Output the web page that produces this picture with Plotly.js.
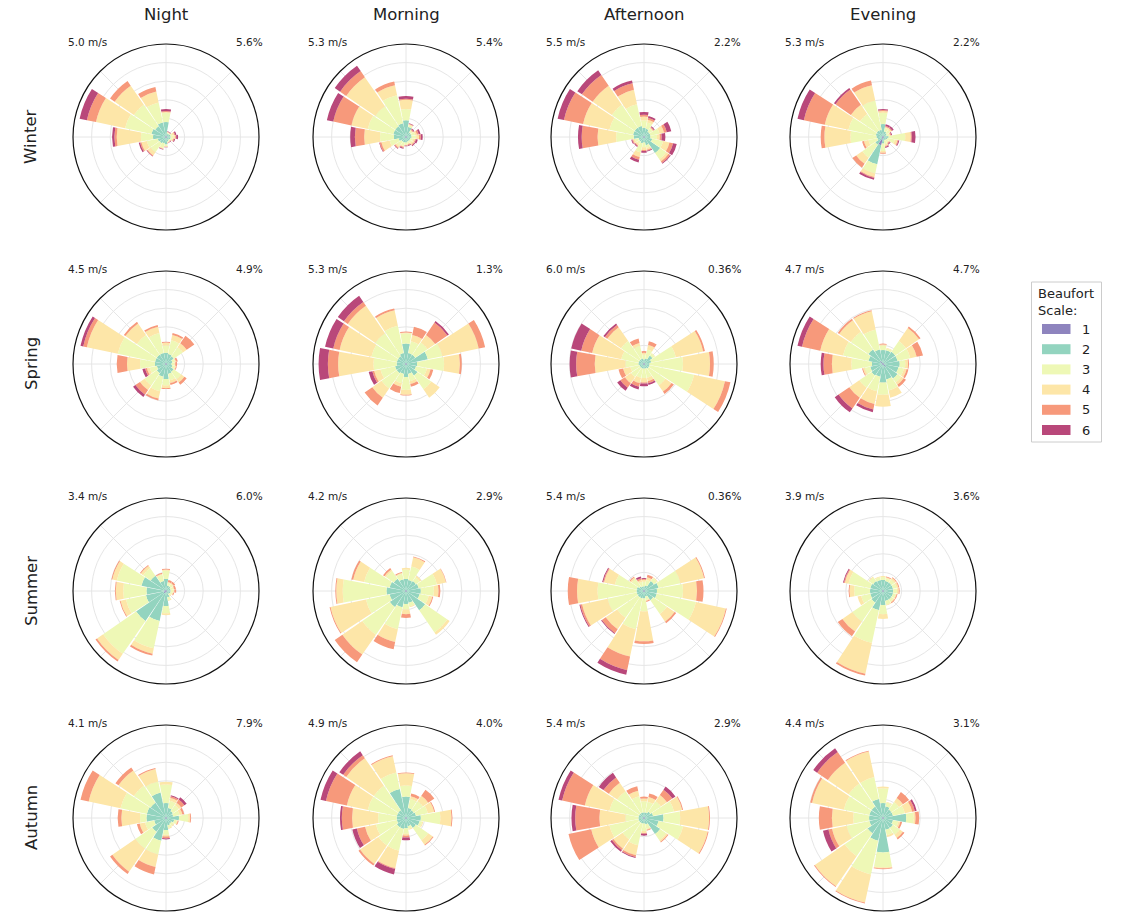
<!DOCTYPE html>
<html>
<head>
<meta charset="utf-8">
<script src="https://cdn.plot.ly/plotly-3.0.1.min.js"></script>
<style>html,body{margin:0;padding:0;background:#fff;}#chart{width:1122px;height:913px;}</style>
</head>
<body>
<div id="chart"></div>
<script>
// ---------- DATA ----------
const directions = ['N','NNE','NE','ENE','E','ESE','SE','SSE','S','SSW','SW','WSW','W','WNW','NW','NNW'];
const beaufortClasses = ['1','2','3','4','5','6'];
const seasons = ['Winter','Spring','Summer','Autumn'];
const timesOfDay = ['Night','Morning','Afternoon','Evening'];

// frequency per direction (rows N..NNW) per Beaufort class (columns 1..6), relative units
const winterNight = [
 [1,15,10,1,1,2],[1,3,1,0.5,0.3,0.5],[1,3,1,0.5,0.5,0.5],[1,4,2,2,1,1.5],[1,4,3,2,1,2],[1,4,2,1,1,1],[1,3,1,1,0.5,0.5],[1,4,1,0.5,0.3,0.3],
 [1,7,2,0.5,0.3,0.3],[1,6,5,1,0.5,0.5],[1,7,12,4,1,0.5],[1,8,12,6,1.5,1.5],[1,13,13,26,2.5,2.5],[1,15,29,32,10,8],[1,13,28,25,6,0],[1,15,22,12,5,0]];
const winterMorning = [
 [1,17,12,10,1,3],[1,10,2,1,0.5,0.5],[1,5,2,1,1,1],[1,5,4,2,2,2],[1,5,5,3,2,2],[1,4,3,2,1,2],[1,4,3,2,1,1],[1,4,2,1,1,1],
 [1,5,2,1,0.5,0.5],[1,5,4,1,1,1],[1,5,6,2,1,0.5],[1,7,10,9,2,0.5],[1,12,15,17,10,5],[1,13,28,18,20,7],[1,13,26,38,8,7],[1,14,31,11,4,0]];
const winterAfternoon = [
 [1,9,8,4,2,3],[1,8,7,3,2,2],[1,6,4,1,1,1],[1,6,10,5,3,5],[1,6,7,3,2,4],[1,8,12,7,4,4],[1,20,8,3,2,1],[1,8,3,2,1,1],
 [1,5,5,3,1,2],[1,6,10,5,3,3],[1,5,3,2,1,1],[1,5,4,2,1,1],[1,10,19,20,17,4],[1,11,26,29,21,7],[1,11,30,25,14,6],[1,11,24,16,7,3]];
const winterEvening = [
 [1,13,12,2,1,1],[1,5,4,1,1,2],[1,4,4,2,1,2],[1,3,3,1,1,1],[1,5,18,6,1,4],[1,4,8,3,1,1],[1,3,3,1,1,1],[1,3,4,2,1,1],
 [1,6,8,2,1,0],[9,21,10,4,1,2],[2,8,17,8,5,0],[1,5,10,5,2,0],[1,6,28,28,4,0],[1,7,30,26,23,7],[1,7,22,12,20,2],[1,7,32,17,5,0]];
const springNight = [
 [1,11,8,3,1,0],[1,10,15,6,2,0],[1,9,12,5,10,0],[1,6,3,1,2,0],[1,5,3,1,2,0],[1,6,3,1,1,0],[1,9,10,4,3,0],[1,10,7,3,2,0],
 [1,15,7,3,1,0],[1,13,16,8,2,0],[1,11,16,6,6,3],[1,9,8,3,2,3],[1,11,16,14,11,0],[1,11,41,34,4,3],[1,11,26,15,2,0],[1,11,22,7,2,0]];
const springMorning = [
 [1,21,11,1,1,0],[1,11,13,7,9,0],[1,11,16,10,16,2],[1,23,16,40,7,0],[1,11,29,17,2,0],[1,10,12,4,3,0],[1,14,18,11,0,0],[1,10,8,3,3,0],
 [1,13,14,5,1,0],[1,10,10,4,7,0],[1,11,20,12,10,0],[1,11,16,7,2,4],[1,9,25,38,11,10],[1,9,28,35,7,9],[1,9,30,36,5,8],[1,11,30,17,2,0]];
const springAfternoon = [
 [1,4,5,2,2,0],[1,5,10,5,4,0],[1,10,3,0.5,0,0],[1,7,27,30,2,0],[1,5,36,29,4,0],[1,5,49,34,6,0],[1,5,22,8,3,0],[1,4,10,4,2,2],
 [1,4,10,5,1,3],[1,4,10,6,4,3],[1,4,12,8,6,4],[1,4,10,8,5,0],[1,5,14,33,20,7],[1,5,19,32,12,11],[1,5,24,18,3,2],[1,5,14,3,5,0]];
const springEvening = [
 [1,14,5,1,1,0],[1,14,2,1,0,0],[1,15,14,17,2,0],[1,15,14,7,7,0],[1,17,6,3,1,0],[1,16,6,3,2,0],[4,15,5,3,3,0],[1,16,12,8,0,0],
 [1,19,13,13,0,0],[1,13,16,14,6,3],[1,14,16,13,14,5],[1,13,6,2,1,0],[1,11,22,21,9,3],[1,15,28,25,20,5],[4,15,23,15,2,0],[1,15,22,20,1,0]];
const summerNight = [
 [1,12,9,1,1,0],[1,5,3,1,2,0],[1,5,3,1,2,0],[1,4,3,1,2,0],[1,4,3,1,2,0],[1,4,2,1,1,0],[1,3,2,1,0,0],[1,6,3,1,0,0],
 [1,15,8,2,0,0],[2,31,30,6,2,0],[3,36,43,8,2,0],[2,20,22,6,1,0],[2,19,25,8,1,0],[2,25,27,5,1,0],[1,19,10,3,1,0],[1,10,7,1,1,0]];
const summerMorning = [
 [1,12,10,2,0,0],[1,11,15,10,1,0],[1,12,5,2,0,0],[1,13,20,10,0.5,0],[1,15,14,5,2,0],[1,14,10,4,1,0],[1,24,29,3,0,0],[1,12,4,1,0,0],
 [1,13,6,5,4,0],[1,17,24,14,8,0],[1,20,36,26,10,0],[1,17,26,39,1,0],[1,20,47,7,1,0],[1,17,28,12,2,0],[1,15,10,2,2,0],[1,12,6,1,1,0]];
const summerAfternoon = [
 [1,4,5,2,1,1],[1,5,6,3,3,0],[1,12,4,1,0,0],[1,15,24,26,1,0],[1,13,28,15,7,0],[1,13,43,33,1,0],[1,11,18,10,2,0],[1,5,4,1,1,0],
 [1,7,14,32,3,0],[1,7,34,30,15,5],[1,7,27,15,5,1],[1,7,32,28,2,1],[1,7,42,22,10,0],[1,7,24,12,1,1],[1,5,10,2,1,0],[1,4,5,2,2,2]];
const summerEvening = [
 [1,11,3,1,0,0],[1,10,3,1,1,0],[1,10,4,2,1,0],[1,10,4,2,1,0],[1,10,4,2,1,0],[1,10,3,1,1,0],[1,10,3,1,1,0],[1,10,4,1,0,0],
 [1,14,10,5,0,0],[1,20,36,34,2,0],[1,14,25,13,6,0],[1,13,10,4,0,0],[1,13,17,5,1,0],[1,13,24,4,1,1],[1,12,5,1,0,0],[1,11,3,1,0,0]];
const autumnNight = [
 [1,15,20,3,0,0],[1,10,8,3,2,1],[1,8,8,3,4,3],[1,7,7,3,2,0],[1,13,10,2,1,0],[1,8,3,1,1,0],[1,6,3,1,0,0],[1,7,3,1,0,0],
 [1,12,5,2,2,1],[1,24,15,14,8,0],[1,17,22,30,3,0],[1,12,10,6,3,0],[1,20,7,20,4,0],[1,20,29,35,9,0],[1,19,22,20,4,0],[1,27,12,14,1,0]];
const autumnMorning = [
 [1,22,12,13,1,0],[1,10,10,3,3,0],[1,9,12,7,8,0],[1,10,13,7,1,0],[1,15,21,12,1,0],[1,14,3,1,0,0],[1,12,16,6,1,0],[1,8,3,1,0,0],
 [1,10,6,2,2,3],[1,11,24,19,1,6],[1,11,24,24,2,0],[1,9,23,12,9,5],[1,9,20,28,11,2],[1,9,32,23,23,6],[1,9,32,36,4,5],[1,31,18,18,1,0]];
const autumnAfternoon = [
 [1,5,12,3,2,0],[1,5,12,5,4,0],[1,7,14,8,7,4],[1,9,23,9,1,0],[1,20,18,31,1,0],[1,15,27,27,1,0],[1,20,8,2,1,0],[1,6,5,1,1,0],
 [1,5,8,2,1,2],[1,5,24,11,2,1],[1,5,22,12,2,2],[1,5,32,20,25,0],[1,5,14,28,26,4],[1,5,32,27,25,4],[1,5,29,11,7,6],[1,5,18,6,5,0]];
const autumnEvening = [
 [1,15,16,2,0,0],[1,12,4,1,0,0],[1,10,10,5,8,0],[1,10,13,8,3,2],[1,24,8,2,4,0],[1,10,6,2,2,0],[1,12,9,4,2,0],[1,12,6,2,0,0],
 [1,36,16,1,1,0],[1,24,37,31,1,0],[1,19,30,39,1,0],[1,14,25,16,4,6],[1,14,17,23,14,0],[1,14,28,35,2,0],[1,14,30,27,14,5],[1,20,24,28,1,0]];

const meanSpeed = [['5.0','5.3','5.5','5.3'],['4.5','5.3','6.0','4.7'],['3.4','4.2','5.4','3.9'],['4.1','4.9','5.4','4.4']];
const calmPct = [['5.6','5.4','2.2','2.2'],['4.9','1.3','0.36','4.7'],['6.0','2.9','0.36','3.6'],['7.9','4.0','2.9','3.1']];

// ---------- STYLE ----------
const panels = [
  [winterNight, winterMorning, winterAfternoon, winterEvening],
  [springNight, springMorning, springAfternoon, springEvening],
  [summerNight, summerMorning, summerAfternoon, summerEvening],
  [autumnNight, autumnMorning, autumnAfternoon, autumnEvening]
];
const colors = ['#8e84be','#93d4bf','#eef8b6','#fde6a8','#f7997b','#b9487a'];
const W = 1122, H = 913;
const colX = [166, 406, 644, 883];
const rowY = [137, 364, 591, 818];
const R = 93;
const FONT = 'DejaVu Sans, sans-serif';
const px = x => x / W, py = y => 1 - y / H;

const angles = directions.map((_, i) => i * 360 / directions.length);
const traces = [];
const layout = {
  width: W, height: H, margin: {l:0, r:0, t:0, b:0},
  paper_bgcolor: '#fff', showlegend: false,
  font: {family: FONT, color: '#222'},
  annotations: [], shapes: []
};

let k = 0;
for (let r = 0; r < 4; r++) {
  for (let c = 0; c < 4; c++) {
    k++;
    const name = k === 1 ? 'polar' : 'polar' + k;
    const data = panels[r][c];
    beaufortClasses.forEach((cls, j) => {
      traces.push({
        type: 'barpolar', subplot: name, name: cls,
        r: data.map(row => row[j]), theta: angles, width: 21,
        marker: {color: colors[j], line: {width: 0}},
        hoverinfo: 'skip'
      });
    });
    const cx = colX[c], cy = rowY[r];
    layout[name] = {
      domain: {x: [px(cx - R), px(cx + R)], y: [py(cy + R), py(cy - R)]},
      bgcolor: '#fff', barmode: 'stack',
      angularaxis: {rotation: 90, direction: 'clockwise', dtick: 45, showticklabels: false, ticks: '',
        gridcolor: '#e6e6e6', gridwidth: 1, linecolor: '#111', linewidth: 1.2, showline: true},
      radialaxis: {range: [0, 100], tickvals: [20, 40, 60, 80], showticklabels: false, ticks: '',
        gridcolor: '#e6e6e6', gridwidth: 1, showline: false}
    };
    layout.annotations.push({xref:'paper', yref:'paper', x: px(cx - 100), y: py(cy - 95), xanchor:'left', yanchor:'middle',
      text: meanSpeed[r][c] + ' m/s', showarrow: false, font: {size: 10.5, family: FONT, color: '#222'}});
    layout.annotations.push({xref:'paper', yref:'paper', x: px(cx + 99), y: py(cy - 95), xanchor:'right', yanchor:'middle',
      text: calmPct[r][c] + '%', showarrow: false, font: {size: 10.5, family: FONT, color: '#222'}});
  }
}
timesOfDay.forEach((t, c) => layout.annotations.push({xref:'paper', yref:'paper', x: px(colX[c]), y: py(14),
  xanchor:'center', yanchor:'middle', text: t, showarrow:false, font:{size:16.5, family: FONT, color:'#222'}}));
seasons.forEach((s, r) => layout.annotations.push({xref:'paper', yref:'paper', x: px(31), y: py(rowY[r]),
  xanchor:'center', yanchor:'middle', text: s, textangle: -90, showarrow:false, font:{size:16.5, family: FONT, color:'#222'}}));

// legend box
layout.shapes.push({type:'rect', xref:'paper', yref:'paper', x0: px(1031.5), x1: px(1101.5), y0: py(282), y1: py(442),
  line:{color:'#cccccc', width:1}, fillcolor:'rgba(255,255,255,0.8)'});
layout.annotations.push({xref:'paper', yref:'paper', x: px(1036), y: py(294), xanchor:'left', yanchor:'middle',
  text:'Beaufort', showarrow:false, font:{size:13, family: FONT, color:'#222'}});
layout.annotations.push({xref:'paper', yref:'paper', x: px(1036), y: py(310), xanchor:'left', yanchor:'middle',
  text:'Scale:', showarrow:false, font:{size:13, family: FONT, color:'#222'}});
beaufortClasses.forEach((cls, j) => {
  const y = 329 + j * 20.2;
  layout.shapes.push({type:'rect', xref:'paper', yref:'paper', x0: px(1042), x1: px(1070.5), y0: py(y + 5), y1: py(y - 5),
    line:{width:0}, fillcolor: colors[j]});
  layout.annotations.push({xref:'paper', yref:'paper', x: px(1080), y: py(y), xanchor:'left', yanchor:'middle',
    text: cls, showarrow:false, font:{size:13, family: FONT, color:'#222'}});
});

Plotly.newPlot('chart', traces, layout, {staticPlot: true});
</script>
</body>
</html>
